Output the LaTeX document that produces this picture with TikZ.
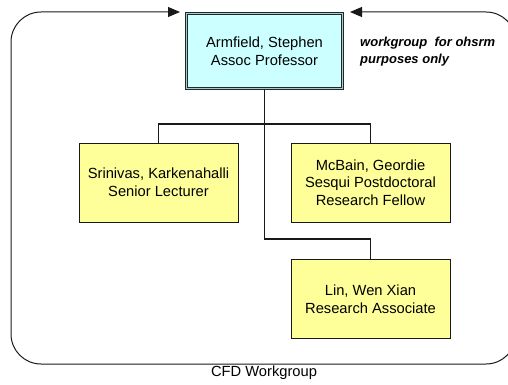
\documentclass[tikz,border=0pt]{standalone}
\usepackage{fontspec}
\setmainfont{Liberation Sans}
\usetikzlibrary{arrows.meta}
\definecolor{headfill}{HTML}{CCFFFF}
\definecolor{headband}{HTML}{9CCFCF}
\definecolor{staffill}{HTML}{FFFF99}
\tikzset{
  txt/.style={font=\fontsize{14.7}{17.6}\selectfont, align=center, inner sep=0pt},
  headbox/.style={txt, draw=black!85, line width=0.8pt, double=headband,
    double distance=1.4pt, fill=headfill, minimum width=156pt, minimum height=75pt},
  staffbox/.style={txt, draw=black!90, line width=1pt, fill=staffill,
    minimum width=159pt, minimum height=79pt},
  link/.style={draw=black!90, line width=1.1pt},
  frame/.style={draw=black!90, line width=1pt, rounded corners=30pt,
    {Triangle[length=12pt,width=10pt]}-{Triangle[length=12pt,width=10pt]}}
}
\begin{document}
\begin{tikzpicture}[x=1pt,y=-1pt]
  \useasboundingbox (0,0) rectangle (508,385);
  \clip (0,0) rectangle (508,385);

  % head of the workgroup
  \node[headbox] (head) at (264.5,51) {Armfield, Stephen\\Assoc Professor};

  % staff
  \node[staffbox] (sri) at (158.5,182.5) {Srinivas, Karkenahalli\\Senior Lecturer};
  \node[staffbox] (mcb) at (370.5,182.5) {McBain, Geordie\\Sesqui Postdoctoral\\Research Fellow};
  \node[staffbox] (lin) at (370.5,299) {Lin, Wen Xian\\Research Associate};

  % reporting lines
  \coordinate (j1) at (264.5,124);
  \coordinate (j2) at (264.5,239);
  \draw[link] (head.south) -- (j2) -| (lin.north);
  \draw[link] (sri.north) |- (j1) -| (mcb.north);

  % workgroup boundary
  \coordinate (la) at (180,12);
  \coordinate (ra) at (350,12);
  \draw[frame] (ra) -- (516,12) -- (516,364) -- (11,364) -- (11,12) -- (la);

  % notes
  \node[font=\fontsize{13}{17}\selectfont\bfseries\itshape, align=left,
        inner sep=0pt, anchor=west] (note) at (360,51.5)
        {workgroup\ \ for ohsrm\\purposes only};
  \node[txt] (cap) at (264,373) {CFD Workgroup};
\end{tikzpicture}
\end{document}
